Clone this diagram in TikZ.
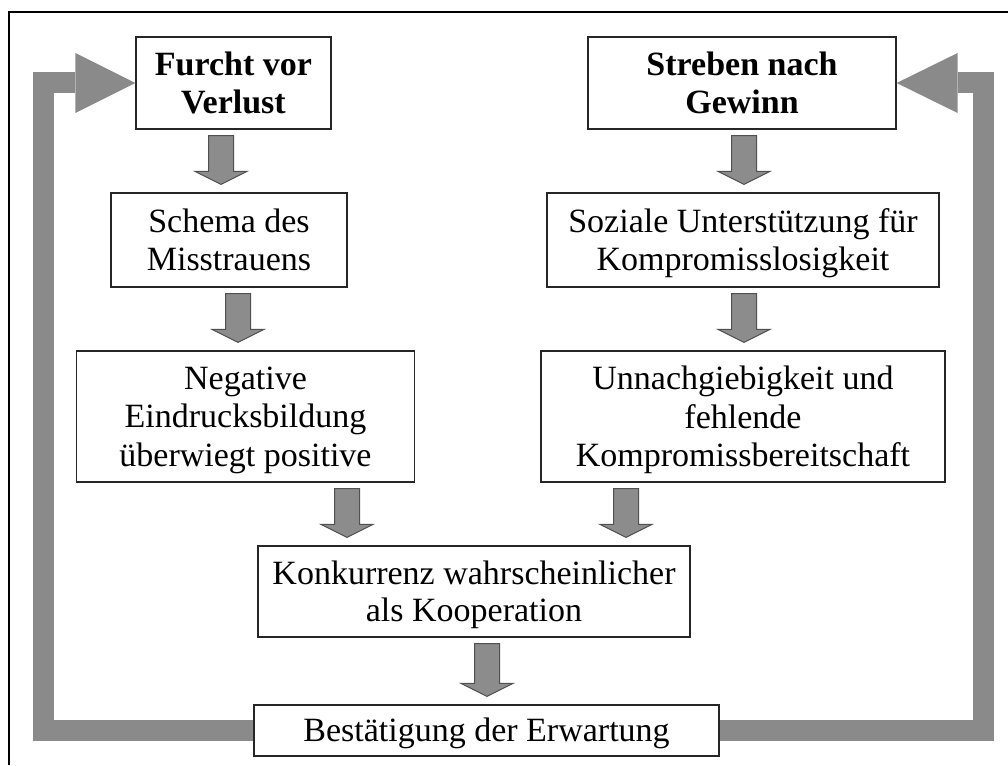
\documentclass[tikz,border=0pt]{standalone}
\usepackage{fontspec}
\setmainfont{Liberation Serif}
\usetikzlibrary{calc}

\definecolor{arrowgray}{HTML}{8C8C8C}
\definecolor{arrowedge}{HTML}{505050}
\definecolor{loopgray}{HTML}{8A8A8A}

% one text line: ascent and descent of the serif face
\newcommand\lnstrut{\rule[-7.3pt]{0pt}{37.6pt}}

\tikzset{
  box/.style={draw=black!85, line width=1.2pt, fill=white, align=center,
    inner sep=0pt, font=\fontsize{34}{37.6}\selectfont},
  headbox/.style={box, font=\fontsize{34}{37.6}\selectfont\bfseries},
  blockarrow/.style={fill=arrowgray, draw=arrowedge, line width=1pt, line join=miter,
    to path={let \p1=(\tikztostart), \p2=(\tikztotarget) in
      (\x1-12.5pt,\y1-6pt) -- (\x1+12.5pt,\y1-6pt) -- (\x1+12.5pt,\y2+21pt)
      -- (\x1+26pt,\y2+21pt) -- (\x1,\y2+8pt) -- (\x1-26pt,\y2+21pt)
      -- (\x1-12.5pt,\y2+21pt) -- cycle}},
  loopbar/.style={draw=loopgray, line width=21pt, line join=miter},
  loophead/.style={fill=loopgray}
}

\begin{document}
\begin{tikzpicture}[x=1pt, y=-1pt]
\useasboundingbox (0,0) rectangle (1008,765);

% frame
\draw[line width=1.5pt] (1008,12) -- (9,12) -- (9,765);

% boxes
\node[headbox, minimum width=195pt, minimum height=92pt] (furcht) at (233.5,83)
  {\lnstrut Furcht vor\\\lnstrut Verlust};
\node[headbox, minimum width=308pt, minimum height=92pt] (streben) at (742,83)
  {\lnstrut Streben nach\\\lnstrut Gewinn};
\node[box, minimum width=236pt, minimum height=94pt] (schema) at (229,240)
  {\lnstrut Schema des\\\lnstrut Misstrauens};
\node[box, minimum width=392pt, minimum height=94pt] (soziale) at (743,240)
  {\lnstrut Soziale Unterstützung für\\\lnstrut Kompromisslosigkeit};
\node[box, minimum width=338pt, minimum height=131pt] (negativ) at (245.5,416.5)
  {\lnstrut Negative\\\lnstrut Eindrucksbildung\\\lnstrut überwiegt positive};
\node[box, minimum width=404pt, minimum height=131pt] (unnach) at (743,416.5)
  {\lnstrut Unnachgiebigkeit und\\\lnstrut fehlende\\\lnstrut Kompromissbereitschaft};
\node[box, minimum width=432pt, minimum height=91pt] (konkurrenz) at (474,591.5)
  {\lnstrut Konkurrenz wahrscheinlicher\\\lnstrut als Kooperation};
\node[box, minimum width=465pt, minimum height=51pt] (bestaetigung) at (486.5,730.5)
  {\lnstrut Bestätigung der Erwartung};

% block arrows between the steps
\draw[blockarrow] (221,0 |- furcht.south) to (221,0 |- schema.north);
\draw[blockarrow] (744,0 |- streben.south) to (744,0 |- soziale.north);
\draw[blockarrow] (238,0 |- schema.south) to (238,0 |- negativ.north);
\draw[blockarrow] (744,0 |- soziale.south) to (744,0 |- unnach.north);
\draw[blockarrow] (347,0 |- negativ.south) to (347,0 |- konkurrenz.north);
\draw[blockarrow] (626,0 |- unnach.south) to (626,0 |- konkurrenz.north);
\draw[blockarrow] (487,0 |- konkurrenz.south) to (487,0 |- bestaetigung.north);

% feedback loops back to the top
\coordinate (lbase) at ($(furcht.west)+(-60pt,0)$);
\coordinate (rbase) at ($(streben.east)+(61pt,0)$);
\draw[loopbar] (bestaetigung.west) -- (43,0 |- bestaetigung.west) -- (43,0 |- furcht.west) -- (lbase);
\fill[loophead] (furcht.west) -- ($(lbase)+(0,30pt)$) -- ($(lbase)+(0,-30pt)$) -- cycle;
\draw[loopbar] (bestaetigung.east) -- (983.5,0 |- bestaetigung.east) -- (983.5,0 |- streben.east) -- (rbase);
\fill[loophead] (streben.east) -- ($(rbase)+(0,30pt)$) -- ($(rbase)+(0,-30pt)$) -- cycle;
\end{tikzpicture}
\end{document}
